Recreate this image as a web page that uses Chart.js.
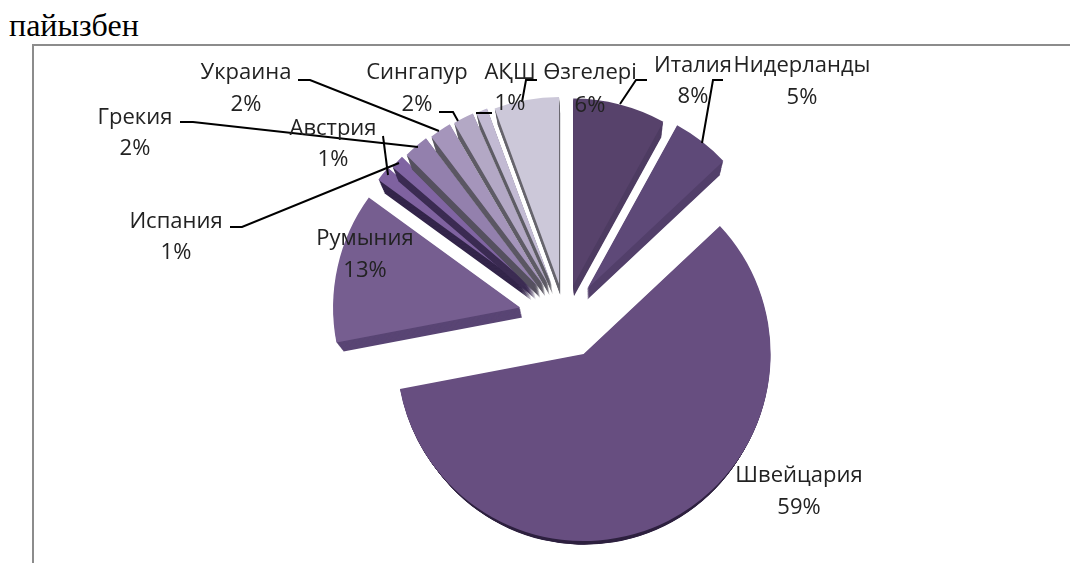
<!DOCTYPE html>
<html lang="kk">
<head>
  <meta charset="UTF-8" />
  <title>пайызбен</title>
  <script src="https://cdn.jsdelivr.net/npm/chart.js"></script>
  <style>
    html, body { margin: 0; padding: 0; background: #fff; overflow: hidden; }
    #page { position: relative; width: 1070px; height: 563px; overflow: hidden; }
    #caption { position: absolute; left: 9px; top: 7px; font: 32px "Liberation Serif", serif; line-height: 36px; color: #000; }
    #frame { position: absolute; left: 32px; top: 44px; width: 1100px; height: 600px; border: 2px solid #8c8c8c; }
    #chart { position: absolute; left: 0; top: 0; }
  </style>
</head>
<body>
  <div id="page">
    <div id="caption">пайызбен</div>
    <div id="frame"></div>
    <canvas id="chart" width="1070" height="563"></canvas>
  </div>

  <script>
    // Values, clockwise from 12 o'clock (labels show them rounded)
    const categories = ['Италия', 'Нидерланды', 'Швейцария', 'Румыния', 'Испания', 'Австрия', 'Грекия', 'Украина', 'Сингапур', 'АҚШ', 'Өзгелері'];
    const shares = [8, 5, 59, 13, 1.3, 1.2, 2.2, 1.9, 1.8, 1, 5.6];

    // Slice styling
    const sliceColors = ['#57426b', '#5e4978', '#674e80', '#765e90', '#7f62a0', '#8064a2', '#9380ad', '#a595bb', '#b3a8c5', '#c2bad3', '#ccc8d9'];
    const sideColors = ['#4e3c62', '#523f6a', '#2f2240', '#594574', '#33254a', '#3b2b52', '#55505f', '#5b5763', '#5f5c66', '#5f5d66', '#68666e'];
    const explode = [33, 36, 41, 46, 45, 42, 40, 38, 37, 36, 34];

    // Label centres [x, name y, percent y]
    const labelPos = [
      [693, 66, 97], [802, 66, 98], [799, 476, 508], [365, 239, 271], [176, 222, 253], [333, 129, 160],
      [135, 118, 149], [246, 73, 105], [417, 73, 105], [510, 73, 104], [590, 73, 106]
    ];
    // Leader lines
    const leaders = [
      [[647, 80], [636, 80], [620, 104]],
      [[723, 80], [713, 80], [702, 143]],
      [[537, 80], [526, 80], [522, 102]],
      [[476, 113], [492, 113]],
      [[439, 112], [453, 112], [458, 121]],
      [[298, 80], [310, 80], [439, 131]],
      [[180, 122], [193, 122], [418, 147]],
      [[383, 136], [388, 175]],
      [[230, 227], [242, 227], [399, 163]]
    ];

    // Draws every slice pulled out on its own, with a dark side sweep for the 3D look
    const vanish = { x: 600, y: 680 };
    const explodedPie = {
      id: 'explodedPie',
      beforeDatasetDraw(chart, args) {
        const ctx = chart.ctx;
        args.meta.data.forEach((arc, i) => {
          const { x, y, startAngle, endAngle, outerRadius } = arc.getProps(['x', 'y', 'startAngle', 'endAngle', 'outerRadius']);
          const mid = (startAngle + endAngle) / 2;
          ctx.save();
          ctx.fillStyle = sideColors[i];
          for (let s = 12; s > 0; s--) {
            const k = 1 - 0.027 * s / 12;
            ctx.save();
            ctx.translate(vanish.x, vanish.y);
            ctx.scale(k, k);
            ctx.translate(-vanish.x, -vanish.y);
            ctx.translate(Math.cos(mid) * explode[i], Math.sin(mid) * explode[i]);
            ctx.beginPath();
            ctx.moveTo(x, y);
            ctx.arc(x, y, outerRadius, startAngle, endAngle);
            ctx.closePath();
            ctx.fill();
            ctx.restore();
          }
          ctx.translate(Math.cos(mid) * explode[i], Math.sin(mid) * explode[i]);
          arc.draw(ctx);
          ctx.restore();
        });
        return false;
      },
      afterDraw(chart) {
        const ctx = chart.ctx;
        ctx.save();
        ctx.strokeStyle = '#000';
        ctx.lineWidth = 2;
        leaders.forEach(pts => {
          ctx.beginPath();
          pts.forEach((p, i) => i ? ctx.lineTo(p[0], p[1]) : ctx.moveTo(p[0], p[1]));
          ctx.stroke();
        });
        ctx.fillStyle = '#222';
        ctx.font = '22px "Open Sans", sans-serif';
        ctx.textAlign = 'center';
        ctx.textBaseline = 'middle';
        categories.forEach((name, i) => {
          const [x, y1, y2] = labelPos[i];
          ctx.fillText(name, x, y1);
          ctx.fillText(Math.round(shares[i]) + '%', x, y2);
        });
        ctx.restore();
      }
    };

    new Chart(document.getElementById('chart'), {
      type: 'pie',
      data: {
        labels: categories,
        datasets: [{
          data: shares,
          backgroundColor: sliceColors,
          borderWidth: 0
        }]
      },
      options: {
        responsive: false,
        animation: false,
        radius: 187,
        layout: { padding: { left: 60, top: 72 } },
        plugins: { legend: { display: false }, tooltip: { enabled: false } }
      },
      plugins: [explodedPie]
    });
  </script>
</body>
</html>
